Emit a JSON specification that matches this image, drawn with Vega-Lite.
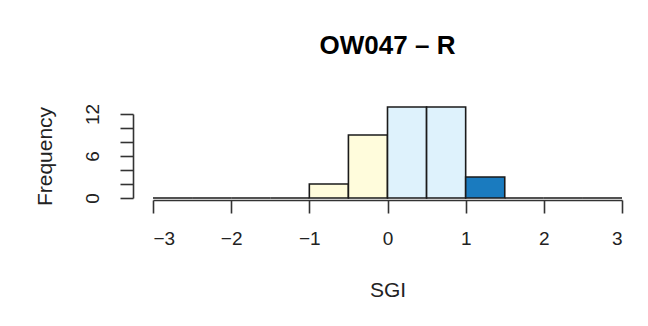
{
  "$schema": "https://vega.github.io/schema/vega-lite/v6.json",
  "autosize": {"type": "none"},
  "padding": {"left": 153, "top": 114, "right": 26, "bottom": 128},
  "width": 469,
  "height": 84,
  "background": "white",
  "title": {
    "text": "OW047 – R",
    "font": "Liberation Sans",
    "fontSize": 26,
    "fontWeight": "bold",
    "color": "#000000",
    "anchor": "middle",
    "offset": 44
  },
  "data": {
    "values": [
      {"start": -3.0, "end": -2.5, "count": 0, "class": "none"},
      {"start": -2.5, "end": -2.0, "count": 0, "class": "none"},
      {"start": -2.0, "end": -1.5, "count": 0, "class": "none"},
      {"start": -1.5, "end": -1.0, "count": 0, "class": "none"},
      {"start": -1.0, "end": -0.5, "count": 2, "class": "low"},
      {"start": -0.5, "end": 0.0, "count": 9, "class": "low"},
      {"start": 0.0, "end": 0.5, "count": 13, "class": "mid"},
      {"start": 0.5, "end": 1.0, "count": 13, "class": "mid"},
      {"start": 1.0, "end": 1.5, "count": 3, "class": "high"},
      {"start": 1.5, "end": 2.0, "count": 0, "class": "none"},
      {"start": 2.0, "end": 2.5, "count": 0, "class": "none"},
      {"start": 2.5, "end": 3.0, "count": 0, "class": "none"}
    ]
  },
  "mark": {"type": "rect", "stroke": "#1a1a1a", "strokeWidth": 1.6, "clip": false},
  "encoding": {
    "x": {
      "field": "start",
      "type": "quantitative",
      "scale": {"domain": [-3, 3], "nice": false, "zero": false},
      "axis": {
        "title": "SGI",
        "values": [-3, -2, -1, 0, 1, 2, 3],
        "format": "d",
        "grid": false,
        "offset": 2,
        "domainColor": "#333333",
        "domainWidth": 1.6,
        "tickColor": "#333333",
        "tickWidth": 1.6,
        "tickSize": 13,
        "labelFont": "Liberation Sans",
        "labelFontSize": 19,
        "labelColor": "#222222",
        "labelPadding": 16,
        "titleFont": "Liberation Sans",
        "titleFontSize": 21,
        "titleFontWeight": "normal",
        "titleColor": "#222222",
        "titlePadding": 31
      }
    },
    "x2": {"field": "end"},
    "y": {
      "field": "count",
      "type": "quantitative",
      "scale": {"domain": [0, 12], "nice": false},
      "axis": {
        "title": "Frequency",
        "values": [0, 2, 4, 6, 8, 10, 12],
        "labelExpr": "datum.value % 6 == 0 ? datum.label : ''",
        "grid": false,
        "offset": 20,
        "domainColor": "#333333",
        "domainWidth": 1.6,
        "tickColor": "#333333",
        "tickWidth": 1.6,
        "tickSize": 13,
        "labelAngle": -90,
        "labelAlign": "center",
        "labelBaseline": "bottom",
        "labelFont": "Liberation Sans",
        "labelFontSize": 19,
        "labelColor": "#222222",
        "labelPadding": 18,
        "titleFont": "Liberation Sans",
        "titleFontSize": 21,
        "titleFontWeight": "normal",
        "titleColor": "#222222",
        "titlePadding": 28
      }
    },
    "y2": {"datum": 0},
    "fill": {
      "field": "class",
      "type": "nominal",
      "scale": {"domain": ["none", "low", "mid", "high"], "range": ["#ffffff", "#fffcdc", "#def2fc", "#1a7bbf"]},
      "legend": null
    }
  },
  "config": {"view": {"stroke": null}}
}
